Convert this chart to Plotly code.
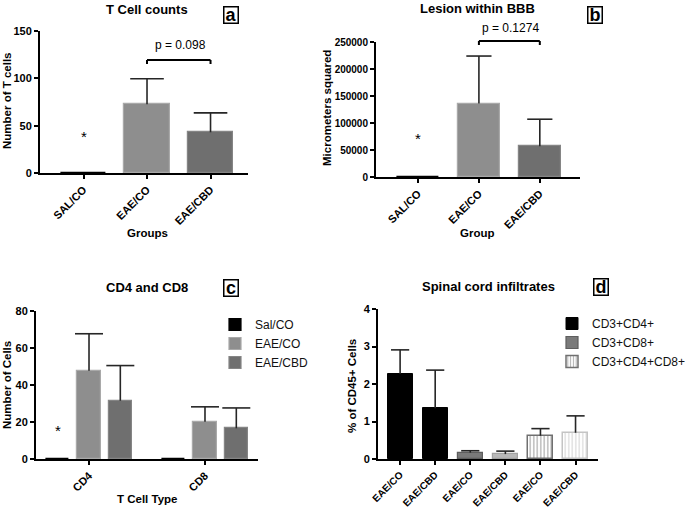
import plotly.graph_objects as go

W, H = 685, 509
FONT = "Liberation Sans, Arial, sans-serif"
ERRC = "#262626"

# ---------------- data ----------------
a_groups = ["SAL/CO", "EAE/CO", "EAE/CBD"]
a_means = [0, 72.5, 43]
a_err = [0, 27, 20.5]
a_yticks = [0, 50, 100, 150]

b_groups = ["SAL/CO", "EAE/CO", "EAE/CBD"]
b_means = [0, 136000, 57000]
b_err = [0, 88000, 50000]
b_yticks = [0, 50000, 100000, 150000, 200000, 250000]

c_types = ["CD4", "CD8"]
c_series = ["Sal/CO", "EAE/CO", "EAE/CBD"]
c_means = {"Sal/CO": [0, 0], "EAE/CO": [47.7, 20.2], "EAE/CBD": [31.5, 16.6]}
c_err = {"Sal/CO": [0, 0], "EAE/CO": [20, 8], "EAE/CBD": [19, 11]}
c_yticks = [0, 20, 40, 60, 80]

d_labels = ["EAE/CO", "EAE/CBD", "EAE/CO", "EAE/CBD", "EAE/CO", "EAE/CBD"]
d_series = ["CD3+CD4+", "CD3+CD8+", "CD3+CD4+CD8+"]
d_means = {"CD3+CD4+": [2.27, 1.35], "CD3+CD8+": [0.17, 0.13], "CD3+CD4+CD8+": [0.62, 0.70]}
d_err = {"CD3+CD4+": [0.64, 1.02], "CD3+CD8+": [0.05, 0.08], "CD3+CD4+CD8+": [0.19, 0.45]}
d_yticks = [0, 1, 2, 3, 4]

# ---------------- helpers ----------------
def fx(p):
    return p / W


def fy(p):
    return 1 - p / H


def tfont(size, bold=True, color="black"):
    return dict(family=FONT, size=size, color=color, weight="bold" if bold else "normal")


def axis_style(**kw):
    d = dict(showline=True, linecolor="black", linewidth=2, ticks="outside", ticklen=4,
             tickwidth=1.5, tickcolor="black", showgrid=False, zeroline=False,
             tickfont=tfont(11), fixedrange=True, automargin=False)
    d.update(kw)
    return d


def err_traces(xs, tops, errs, xa, ya, capw):
    sx, sy, cx, cy = [], [], [], []
    for x, t, e in zip(xs, tops, errs):
        if e:
            sx += [x, x, None]
            sy += [t, t + e, None]
            cx.append(x)
            cy.append(t + e)
    stem = go.Scatter(x=sx, y=sy, mode="lines", line=dict(color=ERRC, width=1.6),
                      xaxis=xa, yaxis=ya, showlegend=False, hoverinfo="skip")
    cap = go.Scatter(x=cx, y=cy, mode="markers",
                     marker=dict(symbol="line-ew", size=capw, line=dict(color=ERRC, width=1.6)),
                     xaxis=xa, yaxis=ya, showlegend=False, hoverinfo="skip")
    return [stem, cap]


GRP_FILL = ["black", "#8e8e8e", "#6f6f6f"]
GRP_EDGE = ["black", "#a9a9a9", "#858585"]

fig = go.Figure()

# ---------------- panel a ----------------
a_x = list(range(len(a_groups)))
fig.add_trace(go.Bar(x=a_x, y=a_means, width=0.71, xaxis="x", yaxis="y", showlegend=False,
                     marker=dict(color=GRP_FILL, line=dict(color=GRP_EDGE, width=1.2))))
for t in err_traces(a_x, a_means, a_err, "x", "y", 24):
    fig.add_trace(t)

# ---------------- panel b ----------------
b_x = list(range(len(b_groups)))
fig.add_trace(go.Bar(x=b_x, y=b_means, width=0.69, xaxis="x2", yaxis="y2", showlegend=False,
                     marker=dict(color=GRP_FILL, line=dict(color=GRP_EDGE, width=1.2))))
for t in err_traces(b_x, b_means, b_err, "x2", "y2", 18):
    fig.add_trace(t)

# ---------------- panel c ----------------
c_offsets = {"Sal/CO": -0.27, "EAE/CO": 0.0, "EAE/CBD": 0.27}
for k, s in enumerate(c_series):
    xs = [i + c_offsets[s] for i in range(len(c_types))]
    fig.add_trace(go.Bar(x=xs, y=c_means[s], width=0.2, name=s, xaxis="x3", yaxis="y3",
                         legend="legend",
                         marker=dict(color=GRP_FILL[k], line=dict(color=GRP_EDGE[k], width=1.2))))
for s in c_series:
    xs = [i + c_offsets[s] for i in range(len(c_types))]
    for t in err_traces(xs, c_means[s], c_err[s], "x3", "y3", 20):
        fig.add_trace(t)

# ---------------- panel d ----------------
d_pos = {"CD3+CD4+": [0, 1], "CD3+CD8+": [2, 3], "CD3+CD4+CD8+": [4, 5]}
fig.add_trace(go.Bar(x=d_pos["CD3+CD4+"], y=d_means["CD3+CD4+"], width=0.71, name="CD3+CD4+",
                     xaxis="x4", yaxis="y4", legend="legend2",
                     marker=dict(color="black", line=dict(color="black", width=1))))
fig.add_trace(go.Bar(x=d_pos["CD3+CD8+"], y=d_means["CD3+CD8+"], width=0.71, name="CD3+CD8+",
                     xaxis="x4", yaxis="y4", legend="legend2",
                     marker=dict(color=["#7a7a7a", "#b8b8b8"],
                                 line=dict(color=["#5e5e5e", "#a2a2a2"], width=1.2))))
fig.add_trace(go.Bar(x=d_pos["CD3+CD4+CD8+"], y=d_means["CD3+CD4+CD8+"], width=0.71,
                     name="CD3+CD4+CD8+", xaxis="x4", yaxis="y4", legend="legend2",
                     marker=dict(color="white",
                                 pattern=dict(shape="|", fgcolor=["#6a6a6a", "#bdbdbd"],
                                              bgcolor="white", size=3.5, solidity=0.4),
                                 line=dict(color=["#707070", "#c4c4c4"], width=1.5))))
for s in d_series:
    for t in err_traces(d_pos[s], d_means[s], d_err[s], "x4", "y4", 13):
        fig.add_trace(t)

# ---------------- axes ----------------
layout = dict(width=W, height=H, margin=dict(l=0, r=0, t=0, b=0, autoexpand=False),
              autosize=False,
              paper_bgcolor="white", plot_bgcolor="white", bargap=0, showlegend=True,
              font=dict(family=FONT, color="black"))

layout["xaxis"] = axis_style(domain=[fx(40), fx(248)], range=[-0.685, 2.59], anchor="y",
                             tickmode="array", tickvals=a_x, ticktext=a_groups, tickangle=-45)
layout["yaxis"] = axis_style(domain=[fy(173), fy(31)], range=[0, 150], anchor="x",
                             tickmode="array", tickvals=a_yticks,
                             ticktext=[str(v) for v in a_yticks])
layout["xaxis2"] = axis_style(domain=[fx(376), fx(580)], range=[-0.69, 2.66], anchor="y2",
                              tickmode="array", tickvals=b_x, ticktext=b_groups, tickangle=-45)
layout["yaxis2"] = axis_style(domain=[fy(177), fy(42)], range=[0, 250000], anchor="x2",
                              tickmode="array", tickvals=b_yticks,
                              ticktext=[str(v) for v in b_yticks], tickfont=tfont(10))
layout["xaxis3"] = axis_style(domain=[fx(36), fx(258)], range=[-0.457, 1.457], anchor="y3",
                              tickmode="array", tickvals=list(range(len(c_types))),
                              ticktext=c_types, tickangle=-45)
layout["yaxis3"] = axis_style(domain=[fy(459), fy(311)], range=[0, 80], anchor="x3",
                              tickmode="array", tickvals=c_yticks,
                              ticktext=[str(v) for v in c_yticks])
layout["xaxis4"] = axis_style(domain=[fx(378), fx(598)], range=[-0.63, 5.64], anchor="y4",
                              tickmode="array", tickvals=list(range(len(d_labels))),
                              ticktext=d_labels, tickangle=-45, tickfont=tfont(10))
layout["yaxis4"] = axis_style(domain=[fy(459), fy(309)], range=[0, 4], anchor="x4",
                              tickmode="array", tickvals=d_yticks,
                              ticktext=[str(v) for v in d_yticks])

legend_common = dict(font=dict(family=FONT, size=12, color="#111111"), bgcolor="rgba(0,0,0,0)",
                     xanchor="left", yanchor="top", itemclick=False, itemdoubleclick=False,
                     tracegroupgap=0, traceorder="normal")
layout["legend"] = dict(x=fx(215), y=fy(310), **legend_common)
layout["legend2"] = dict(x=fx(552), y=fy(309), **legend_common)


def ann(text, x, y, size, bold=True, angle=0, **kw):
    d = dict(text=text, x=fx(x), y=fy(y), xref="paper", yref="paper", showarrow=False,
             font=tfont(size, bold), textangle=angle, xanchor="center", yanchor="middle")
    d.update(kw)
    return d


def label_box(letter, x, y):
    return dict(text=letter, x=fx(x), y=fy(y), xref="paper", yref="paper", showarrow=False,
                font=tfont(18), xanchor="center", yanchor="middle", width=12, height=14,
                bordercolor="black", borderwidth=1.5, borderpad=0.5)


annotations = [
    ann("T Cell counts", 147, 9, 13),
    ann("Lesion within BBB", 478, 8, 13),
    ann("CD4 and CD8", 147, 287, 13),
    ann("Spinal cord infiltrates", 488, 286, 13),
    label_box("a", 231, 15), label_box("b", 595, 15),
    label_box("c", 230.5, 288), label_box("d", 600.5, 287),
    ann("Number of T cells", 7, 101, 11.5, angle=-90),
    ann("Micrometers squared", 327, 108, 11.5, angle=-90),
    ann("Number of Cells", 7, 385, 11.5, angle=-90),
    ann("% of CD45+ Cells", 352, 386, 11.5, angle=-90),
    ann("Groups", 147, 233, 11.5),
    ann("Group", 478, 233, 11.5),
    ann("T Cell Type", 147, 499, 11.5),
    ann("p = 0.098", 180, 45, 12, bold=False),
    ann("p = 0.1274", 510, 28, 12, bold=False),
    dict(text="*", x=0, y=42, xref="x", yref="y", showarrow=False, font=tfont(15, False),
         yshift=-3),
    dict(text="*", x=0, y=76000, xref="x2", yref="y2", showarrow=False, font=tfont(15, False),
         yshift=-3),
    dict(text="*", x=c_offsets["Sal/CO"], y=16.8, xref="x3", yref="y3", showarrow=False,
         font=tfont(15, False), yshift=-3),
]
layout["annotations"] = annotations

# significance brackets
shapes = []
for xa, ya, x0, x1, top, leg in [("x", "y domain", 1, 2, (173 - 60) / 142, (173 - 64) / 142),
                                 ("x2", "y2 domain", 1, 2, (177 - 41) / 135, (177 - 45) / 135)]:
    ln = dict(color="black", width=2)
    shapes.append(dict(type="line", xref=xa, yref=ya, x0=x0, x1=x1, y0=top, y1=top, line=ln))
    shapes.append(dict(type="line", xref=xa, yref=ya, x0=x0, x1=x0, y0=top, y1=leg, line=ln))
    shapes.append(dict(type="line", xref=xa, yref=ya, x0=x1, x1=x1, y0=top, y1=leg, line=ln))
layout["shapes"] = shapes

fig.update_layout(**layout)
fig.write_html("out.html", config={"displayModeBar": False},
               post_script="document.body.style.margin='0';document.body.style.overflow='hidden';")
